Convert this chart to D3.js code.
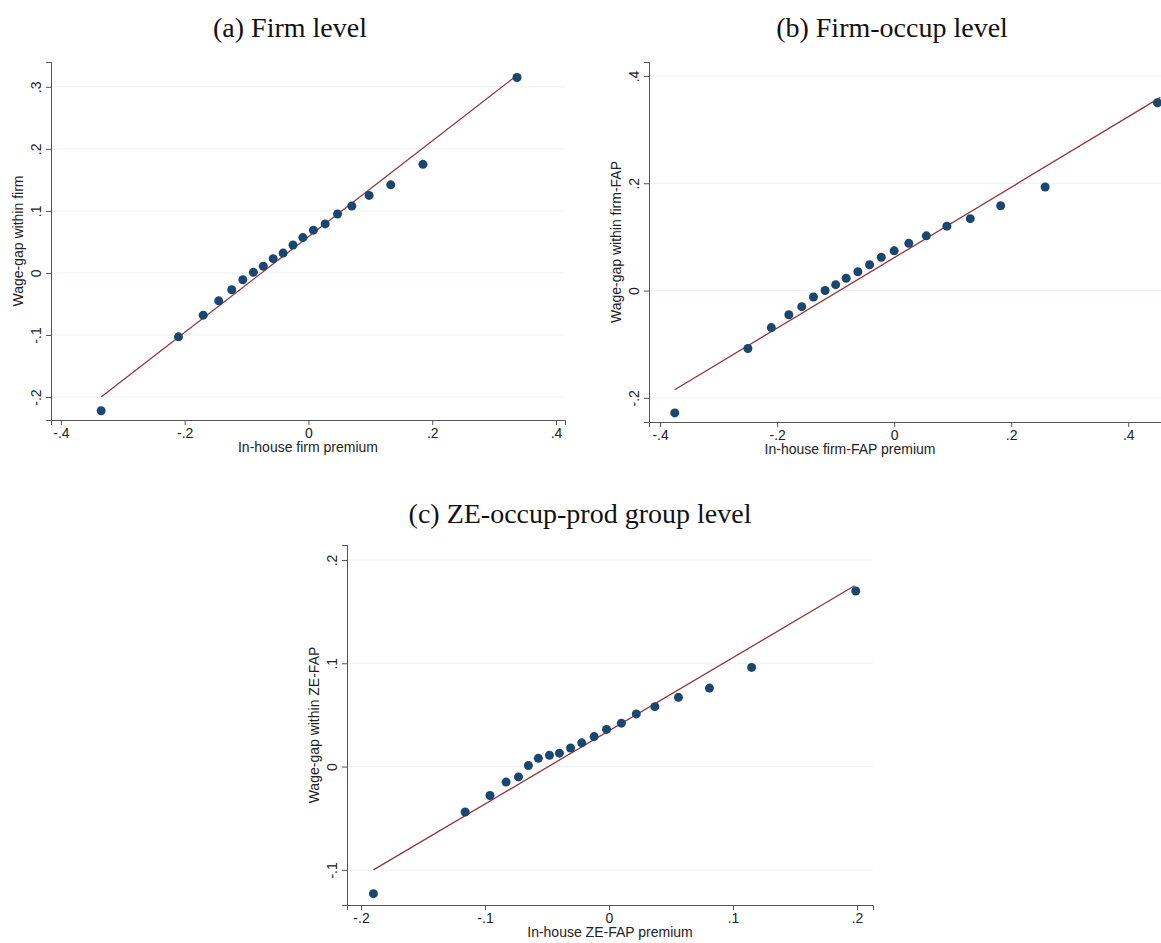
<!DOCTYPE html>
<html><head><meta charset="utf-8">
<script src="https://cdn.jsdelivr.net/npm/d3@7"></script>
<style>body{margin:0;background:#fff}</style>
</head><body>
<svg id="chart" width="1161" height="943"></svg>
<script>
// panel (a) firm level
var aX = [-0.335,-0.21,-0.17,-0.145,-0.124,-0.106,-0.089,-0.073,-0.057,-0.041,-0.025,-0.009,0.008,0.027,0.047,0.07,0.098,0.133,0.185,0.337];
var aY = [-0.222,-0.103,-0.068,-0.045,-0.027,-0.011,0.001,0.011,0.023,0.032,0.045,0.057,0.069,0.079,0.095,0.108,0.125,0.142,0.175,0.315];
var aFit = [[-0.335,-0.2],[0.335,0.317]];
// panel (b) firm-occup level
var bX = [-0.375,-0.25,-0.21,-0.18,-0.158,-0.138,-0.118,-0.1,-0.082,-0.062,-0.042,-0.022,0,0.025,0.055,0.09,0.13,0.182,0.258,0.45];
var bY = [-0.228,-0.108,-0.069,-0.045,-0.03,-0.012,0,0.011,0.023,0.035,0.048,0.062,0.074,0.088,0.102,0.12,0.134,0.158,0.193,0.35];
var bFit = [[-0.375,-0.185],[0.455,0.36]];
// panel (c) ZE-occup-prod group level
var cX = [-0.19,-0.116,-0.096,-0.083,-0.073,-0.065,-0.057,-0.048,-0.04,-0.031,-0.022,-0.012,-0.002,0.01,0.022,0.037,0.056,0.081,0.115,0.199];
var cY = [-0.123,-0.044,-0.028,-0.015,-0.01,0.001,0.008,0.011,0.013,0.018,0.023,0.029,0.036,0.042,0.051,0.058,0.067,0.076,0.096,0.17];
var cFit = [[-0.19,-0.1],[0.198,0.175]];

var aXTicks = [-0.4,-0.2,0,0.2,0.4], aYTicks = [-0.2,-0.1,0,0.1,0.2,0.3];
var bXTicks = [-0.4,-0.2,0,0.2,0.4], bYTicks = [-0.2,0,0.2,0.4];
var cXTicks = [-0.2,-0.1,0,0.1,0.2], cYTicks = [-0.1,0,0.1,0.2];

var svg = d3.select("#chart");
var fmt = function(v){
  if (Math.abs(v) < 1e-9) return "0";
  return (v < 0 ? "-" : "") + Math.abs(v).toFixed(1).replace("0.", ".");
};

function panel(o){
  var x = d3.scaleLinear().domain(o.xd).range([o.l, o.r]);
  var y = d3.scaleLinear().domain(o.yd).range([o.b, o.t]);
  var g = svg.append("g");
  g.selectAll(".grid").data(o.yt).enter().append("line")
    .attr("x1", o.l).attr("x2", o.r)
    .attr("y1", function(d){return y(d);}).attr("y2", function(d){return y(d);})
    .attr("stroke", "#eaf2f3").attr("stroke-width", 1);
  var xa = g.append("g").attr("transform", "translate(0," + o.b + ")")
    .call(d3.axisBottom(x).tickValues(o.xt).tickFormat(fmt).tickSize(5));
  var ya = g.append("g").attr("transform", "translate(" + o.l + ",0)")
    .call(d3.axisLeft(y).tickValues(o.yt).tickFormat(fmt).tickSize(5));
  [xa, ya].forEach(function(a){
    a.select(".domain").attr("stroke", "#555");
    a.selectAll(".tick line").attr("stroke", "#555");
    a.selectAll("text").attr("font-family", "Liberation Sans, Arial").attr("font-size", 14).attr("fill", "#222");
  });
  ya.selectAll("text").attr("transform", "rotate(-90)").attr("text-anchor", "middle")
    .attr("x", 0).attr("y", -10).attr("dy", "0");
  g.append("line")
    .attr("x1", x(o.fit[0][0])).attr("y1", y(o.fit[0][1]))
    .attr("x2", x(o.fit[1][0])).attr("y2", y(o.fit[1][1]))
    .attr("stroke", "#90353b").attr("stroke-width", 1.3);
  g.selectAll("circle").data(o.xs).enter().append("circle")
    .attr("cx", function(d){return x(d);})
    .attr("cy", function(d,i){return y(o.ys[i]);})
    .attr("r", 4.5).attr("fill", "#1a476f");
  g.append("text").attr("x", (o.l + o.r) / 2 + o.xlo).attr("y", o.b + 32)
    .attr("text-anchor", "middle").attr("font-family", "Liberation Sans, Arial")
    .attr("font-size", 14).attr("fill", "#222").text(o.xl);
  g.append("text").attr("transform", "translate(" + (o.l - 28) + "," + ((o.t + o.b) / 2) + ") rotate(-90)")
    .attr("text-anchor", "middle").attr("font-family", "Liberation Sans, Arial")
    .attr("font-size", 14).attr("fill", "#222").text(o.yl);
  svg.append("text").attr("x", o.tx).attr("y", o.ty).attr("text-anchor", "middle")
    .attr("font-family", "Liberation Serif, serif").attr("font-size", 28).attr("fill", "#111").text(o.title);
}

panel({xs:aX, ys:aY, fit:aFit, xt:aXTicks, yt:aYTicks, xd:[-0.416,0.4145], yd:[-0.237,0.34],
  l:51, r:565, t:62, b:420, xl:"In-house firm premium", yl:"Wage-gap within firm", xlo:0,
  title:"(a) Firm level", tx:290, ty:37});
panel({xs:bX, ys:bY, fit:bFit, xt:bXTicks, yt:bYTicks, xd:[-0.419,0.456], yd:[-0.245,0.426],
  l:649, r:1161, t:62, b:422, xl:"In-house firm-FAP premium", yl:"Wage-gap within firm-FAP", xlo:-55,
  title:"(b) Firm-occup level", tx:892, ty:37});
panel({xs:cX, ys:cY, fit:cFit, xt:cXTicks, yt:cYTicks, xd:[-0.2113,0.2129], yd:[-0.134,0.2145],
  l:347, r:873, t:545, b:905, xl:"In-house ZE-FAP premium", yl:"Wage-gap within ZE-FAP", xlo:0,
  title:"(c) ZE-occup-prod group level", tx:580, ty:523});
</script>
</body></html>
